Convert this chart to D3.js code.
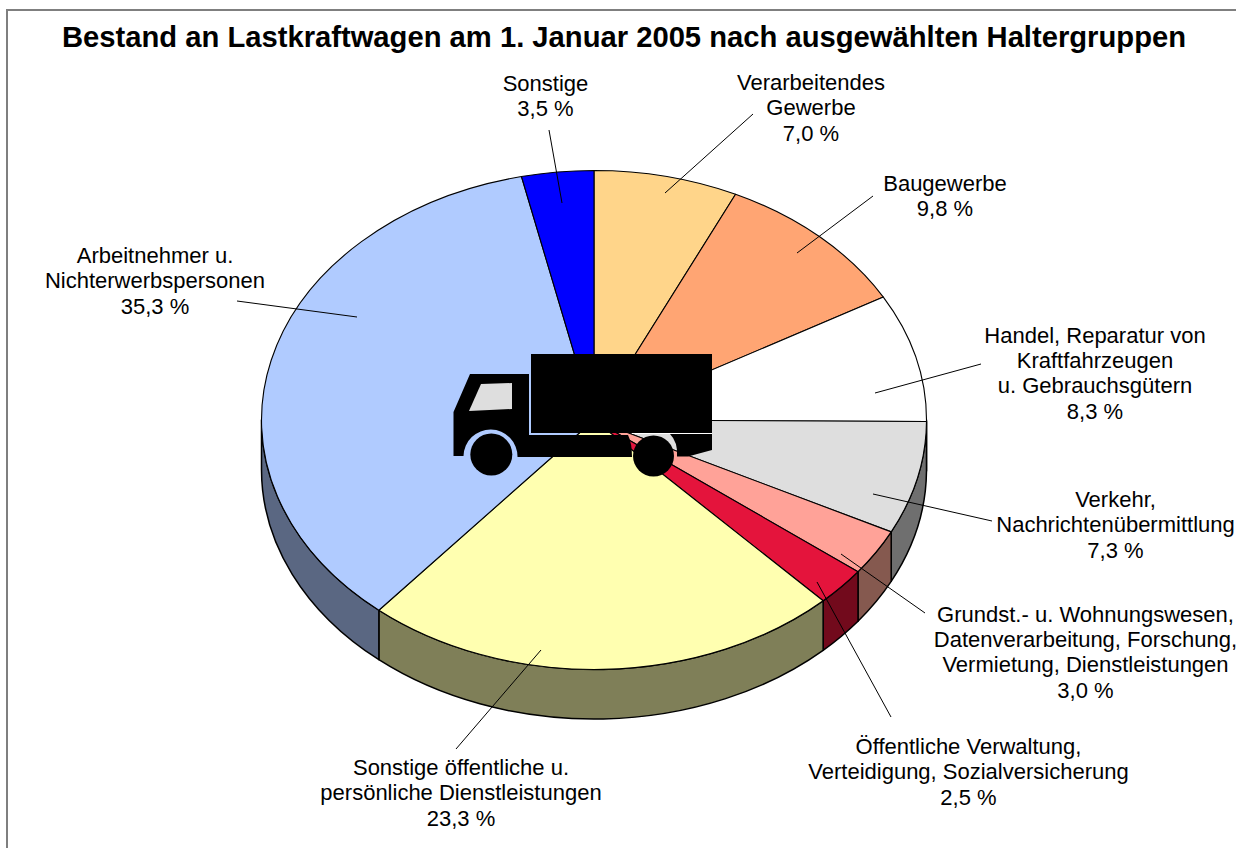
<!DOCTYPE html>
<html><head><meta charset="utf-8">
<script src="https://cdnjs.cloudflare.com/ajax/libs/d3/7.8.5/d3.min.js"></script>
<style>html,body{margin:0;padding:0;background:#fff}svg{display:block}text{font-family:"Liberation Sans",Arial,sans-serif;fill:#000}</style>
</head><body><svg id="c" width="1236" height="848"></svg>
<script>
const title = "Bestand an Lastkraftwagen am 1. Januar 2005 nach ausgewählten Haltergruppen";
const categories = ["Verarbeitendes Gewerbe","Baugewerbe","Handel, Reparatur von Kraftfahrzeugen u. Gebrauchsgütern","Verkehr, Nachrichtenübermittlung","Grundst.- u. Wohnungswesen, Datenverarbeitung, Forschung, Vermietung, Dienstleistungen","Öffentliche Verwaltung, Verteidigung, Sozialversicherung","Sonstige öffentliche u. persönliche Dienstleistungen","Arbeitnehmer u. Nichterwerbspersonen","Sonstige"];
const values = [7.0,9.8,8.3,7.3,3.0,2.5,23.3,35.3,3.5];
const colors = ["#ffd58a","#ffa573","#ffffff","#dedede","#ffa298","#e4143c","#ffffb0","#b0cbff","#0000ff"];
const sideColors = ["#7f6a45","#7f5239","#7f7f7f","#6f6f6f","#85594f","#720a1c","#7f7f58","#5a6782","#00007f"];
const labelLines = [["Verarbeitendes","Gewerbe","7,0 %"],["Baugewerbe","9,8 %"],["Handel, Reparatur von","Kraftfahrzeugen","u. Gebrauchsgütern","8,3 %"],["Verkehr,","Nachrichtenübermittlung","7,3 %"],["Grundst.- u. Wohnungswesen,","Datenverarbeitung, Forschung,","Vermietung, Dienstleistungen","3,0 %"],["Öffentliche Verwaltung,","Verteidigung, Sozialversicherung","2,5 %"],["Sonstige öffentliche u.","persönliche Dienstleistungen","23,3 %"],["Arbeitnehmer u.","Nichterwerbspersonen","35,3 %"],["Sonstige","3,5 %"]];

// layout (annotation placement, kept apart from the data)
const labelCx = [811,945,1095,1115.5,1085.5,968.5,461,155,545.5];
const labelY0 = [90,190.5,342.5,507,621.5,754,775,263,90.5];
const leaders = [[753,114,665,193],[873,196,797,253],[981,364,875,393],[992,521,873,494],[925,613,841,554],[891,717,817,582],[456,749,541,650],[237,301,357,317],[549,130,562,203]];
const cx=594, cy=420, rx=332.5, ry=249.5, depth=49.5, lineH=25.4, fontSize=22;

const svg = d3.select("#c");
// frame
svg.append("path").attr("d","M7,848V10H1236").attr("fill","none").attr("stroke","#7f7f7f").attr("stroke-width",2);
svg.append("text").attr("x",624).attr("y",47).attr("text-anchor","middle").attr("font-size",29.2).attr("font-weight","bold").text(title);

const arcs = d3.pie().sort(null).value(d=>d)(values);
// parametric angle → tilted ellipse, via linear scales on the unit circle
const sx = d3.scaleLinear().domain([-1,1]).range([cx-rx,cx+rx]);
const sy = d3.scaleLinear().domain([-1,1]).range([cy-ry,cy+ry]);
const px = a=>sx(Math.sin(a)), py = a=>sy(-Math.cos(a));
const ell = (a0,a1,off=0,rev=false)=>{
  const large = Math.abs(a1-a0)>Math.PI?1:0;
  return `A${rx},${ry} 0 ${large} ${rev?0:1} ${px(a1)},${py(a1)+off}`;
};
const g = svg.append("g").attr("stroke","#000").attr("stroke-width",1.1).attr("stroke-linejoin","round");
// side walls, only for the front half (90°..270°)
arcs.forEach((d,i)=>{
  const a0=Math.max(d.startAngle,Math.PI/2), a1=Math.min(d.endAngle,Math.PI*1.5);
  if(a1<=a0) return;
  g.append("path").attr("fill",sideColors[i]).attr("stroke-width",1.5)
   .attr("d",`M${px(a0)},${py(a0)}${ell(a0,a1)}L${px(a1)},${py(a1)+depth}${ell(a1,a0,depth,true)}Z`);
});
// top faces
arcs.forEach((d,i)=>{
  g.append("path").attr("fill",colors[i])
   .attr("d",`M${cx},${cy}L${px(d.startAngle)},${py(d.startAngle)}${ell(d.startAngle,d.endAngle)}Z`);
});
// leaders
svg.append("g").selectAll("line").data(leaders).join("line")
  .attr("x1",d=>d[0]).attr("y1",d=>d[1]).attr("x2",d=>d[2]).attr("y2",d=>d[3])
  .attr("stroke","#000").attr("stroke-width",1);
// labels
labelLines.forEach((lines,i)=>{
  const t=svg.append("text").attr("font-size",fontSize).attr("text-anchor","middle");
  lines.forEach((l,j)=>t.append("tspan").attr("x",labelCx[i]).attr("y",labelY0[i]+j*lineH).text(l));
});
// truck pictogram
const truck = svg.append("g").attr("fill","#000");
truck.append("rect").attr("x",531).attr("y",354).attr("width",181).attr("height",79);
truck.append("path").attr("d","M470,374H529V435H628Q632,443 632,457H517.5A27,27 0 0 0 463.5,456H453.5V412Z");
truck.append("path").attr("d","M670,434H712V450L688,456.5H677Q678,442 670,434Z");
truck.append("path").attr("fill","#dedede").attr("d","M481,384L512,383V409L469,411Z");
truck.append("rect").attr("x",632).attr("y",433).attr("width",80).attr("height",1).attr("fill","#fff");
const wheels=[[491.3,454.5,21],[653.5,456,20.5]];
truck.selectAll("circle").data(wheels).join("circle").attr("cx",d=>d[0]).attr("cy",d=>d[1]).attr("r",d=>d[2]);
</script></body></html>
